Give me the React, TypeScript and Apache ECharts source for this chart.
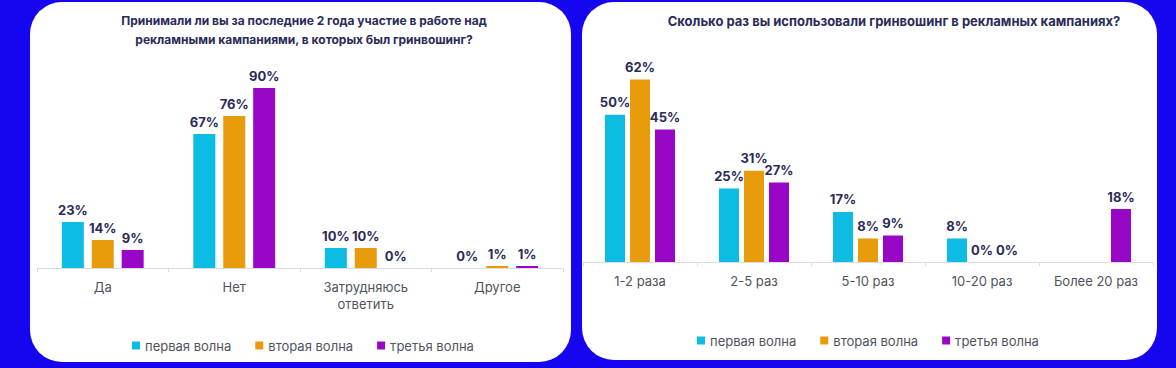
import React, { useEffect, useRef } from "react";
import * as echarts from "echarts";

const seriesNames = ["первая волна", "вторая волна", "третья волна"];
const colors = ["#0cbce2", "#e89b0b", "#9806c6"];

const leftTitle = "Принимали ли вы за последние 2 года участие в работе над\nрекламными кампаниями, в которых был гринвошинг?";
const leftCategories = ["Да", "Нет", "Затрудняюсь\nответить", "Другое"];
const leftWave1 = [23, 67, 10, 0];
const leftWave2 = [14, 76, 10, 1];
const leftWave3 = [9, 90, 0, 1];

const rightTitle = "Сколько раз вы использовали гринвошинг в рекламных кампаниях?";
const rightCategories = ["1-2 раза", "2-5 раз", "5-10 раз", "10-20 раз", "Более 20 раз"];
const rightWave1: (number | null)[] = [50, 25, 17, 8, null];
const rightWave2: (number | null)[] = [62, 31, 8, 0, null];
const rightWave3: (number | null)[] = [45, 27, 9, 0, 18];

const FONT = "Inter, 'Noto Sans', sans-serif";
const NAVY = "#2a2b57";
const GRAY = "#50535e";

export default function App() {
  const ref = useRef<HTMLDivElement>(null);
  useEffect(() => {
    document.body.style.margin = "0";
    const chart = echarts.init(ref.current!, null, { renderer: "svg" });
    const label = {
      show: true,
      position: "top" as const,
      distance: 6,
      color: NAVY,
      fontFamily: FONT,
      fontWeight: "bold" as const,
      fontSize: 13,
      formatter: "{c}%",
    };
    const mk = (name: string, data: (number | null)[], idx: number, color: string, bw: number, gap: string) => ({
      name,
      type: "bar",
      xAxisIndex: idx,
      yAxisIndex: idx,
      data,
      barWidth: bw,
      barGap: gap,
      itemStyle: { color },
      label,
    });
    const xAxisBase = {
      type: "category" as const,
      axisLine: { lineStyle: { color: "#dcdde2", width: 1 } },
      axisTick: { show: true, length: 4, lineStyle: { color: "#dcdde2" } },
      axisLabel: { color: GRAY, fontFamily: FONT, fontSize: 13, margin: 10, lineHeight: 17, interval: 0 },
    };
    const yAxisBase = {
      type: "value" as const,
      min: 0,
      show: false,
      splitLine: { show: false },
    };
    const legendBase = {
      data: seriesNames,
      icon: "rect",
      itemWidth: 8,
      itemHeight: 8,
      itemGap: 24,
      padding: 0,
      textStyle: { color: GRAY, fontFamily: FONT, fontSize: 13 },
    };
    chart.setOption({
      animation: false,
      backgroundColor: "#1606f0",
      color: colors,
      graphic: [
        { type: "rect", shape: { x: 30, y: 2, width: 541, height: 360, r: 32 }, style: { fill: "#ffffff" }, z: -10 },
        { type: "rect", shape: { x: 582, y: 2, width: 575, height: 358, r: 32 }, style: { fill: "#ffffff" }, z: -10 },
      ],
      title: [
        {
          text: leftTitle,
          left: 299,
          top: 6,
          textAlign: "center",
          textStyle: { color: NAVY, fontFamily: FONT, fontWeight: "bold", fontSize: 12, lineHeight: 19 },
        },
        {
          text: rightTitle,
          left: 889,
          top: 6,
          textAlign: "center",
          textStyle: { color: NAVY, fontFamily: FONT, fontWeight: "bold", fontSize: 13, lineHeight: 19 },
        },
      ],
      legend: [
        { ...legendBase, top: 339, left: 132 },
        { ...legendBase, top: 334, left: 697 },
      ],
      grid: [
        { left: 37, width: 526, top: 68, height: 200 },
        { left: 583, width: 570, top: 56, height: 206 },
      ],
      xAxis: [
        { ...xAxisBase, gridIndex: 0, data: leftCategories },
        { ...xAxisBase, gridIndex: 1, data: rightCategories },
      ],
      yAxis: [
        { ...yAxisBase, gridIndex: 0, max: 100 },
        { ...yAxisBase, gridIndex: 1, max: 70 },
      ],
      series: [
        mk(seriesNames[0], leftWave1, 0, colors[0], 22, "36%"),
        mk(seriesNames[1], leftWave2, 0, colors[1], 22, "36%"),
        mk(seriesNames[2], leftWave3, 0, colors[2], 22, "36%"),
        mk(seriesNames[0], rightWave1, 1, colors[0], 20, "25%"),
        mk(seriesNames[1], rightWave2, 1, colors[1], 20, "25%"),
        mk(seriesNames[2], rightWave3, 1, colors[2], 20, "25%"),
      ],
    });
    return () => chart.dispose();
  }, []);
  return <div ref={ref} style={{ position: "absolute", left: 0, top: 0, width: 1176, height: 368 }} />;
}
